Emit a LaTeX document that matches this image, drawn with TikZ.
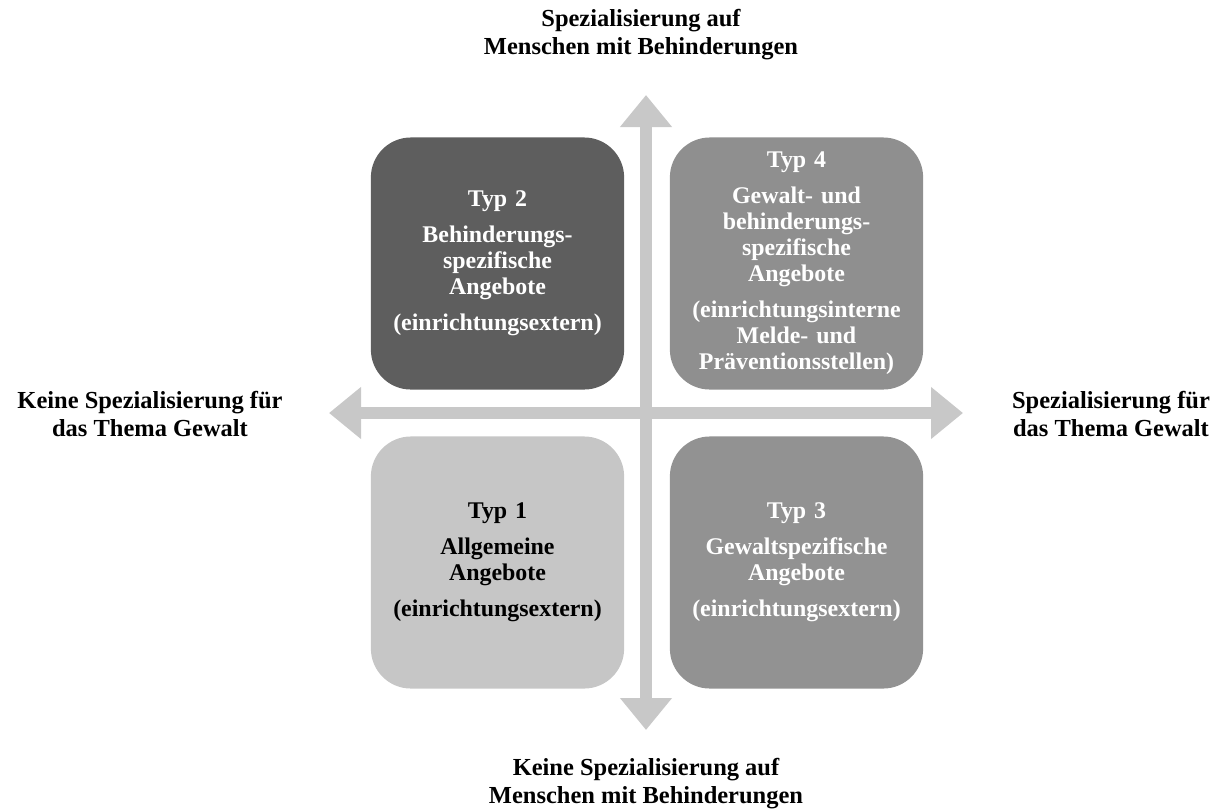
\documentclass[tikz,border=0pt]{standalone}
\usepackage{fontspec}
\setmainfont{Liberation Serif}
\usepackage{tikz}
\usetikzlibrary{arrows.meta, positioning, calc}

\definecolor{axisgray}{HTML}{C8C8C8}
\definecolor{typone}{HTML}{C6C6C6}
\definecolor{typtwo}{HTML}{5E5E5E}
\definecolor{typthree}{HTML}{929292}
\definecolor{typfour}{HTML}{8F8F8F}

\begin{document}
\begin{tikzpicture}[
  x=0.025cm, y=-0.025cm,
  quad/.style={rounded corners=1cm, minimum width=6.33cm, minimum height=6.3cm,
    inner sep=0pt, align=center, text width=6cm,
    font=\fontsize{17}{18.5}\selectfont\bfseries},
  lbl/.style={align=center, font=\fontsize{17.4}{20}\selectfont\bfseries},
  axis/.style={draw=axisgray, line width=0.3cm,
    {Triangle[width=1.25cm,length=0.8cm]}-{Triangle[width=1.25cm,length=0.8cm]}},
]
\useasboundingbox (0,0) rectangle (1216,810);

% axes
\coordinate (N) at (646,95);
\coordinate (S) at (646,730);
\coordinate (W) at (329,413);
\coordinate (E) at (963,413);
\draw[axis] (S) -- (N);
\draw[axis] (W) -- (E);

% quadrants
\node[quad, fill=typtwo, text=white] (T2) at (497.5,263.5)
  {Typ 2\\[0.25cm] Behinderungs-\\ spezifische\\ Angebote\\[0.25cm] (einrichtungsextern)};
\node[quad, fill=typfour, text=white] (T4) at (796.5,263.5)
  {Typ 4\\[0.25cm] Gewalt- und\\ behinderungs-\\ spezifische\\ Angebote\\[0.25cm]
   (einrichtungsinterne\\ Melde- und\\ Präventionsstellen)};
\node[quad, fill=typone, text=black] (T1) at (497.5,562.5)
  {Typ 1\\[0.25cm] Allgemeine\\ Angebote\\[0.25cm] (einrichtungsextern)};
\node[quad, fill=typthree, text=white] (T3) at (796.5,562.5)
  {Typ 3\\[0.25cm] Gewaltspezifische\\ Angebote\\[0.25cm] (einrichtungsextern)};

% axis labels
\node[lbl] (lN) at (641,35) {Spezialisierung auf\\ Menschen mit Behinderungen};
\node[lbl] (lS) at (646,784) {Keine Spezialisierung auf\\ Menschen mit Behinderungen};
\node[lbl] (lW) at (150,414) {Keine Spezialisierung für\\ das Thema Gewalt};
\node[lbl] (lE) at (1111,414) {Spezialisierung für\\ das Thema Gewalt};
\end{tikzpicture}
\end{document}
